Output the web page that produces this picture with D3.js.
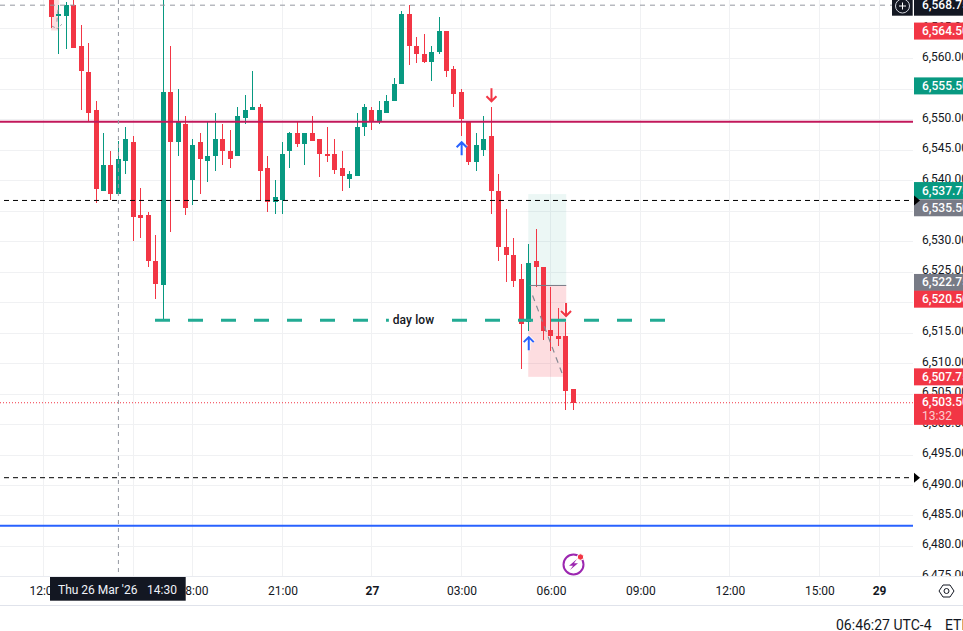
<!DOCTYPE html>
<html><head><meta charset="utf-8">
<script src="https://cdn.jsdelivr.net/npm/d3@7/dist/d3.min.js"></script>
<style>
html,body{margin:0;padding:0;background:#fff;overflow:hidden}
svg{display:block}
text{font-family:Roboto,"Liberation Sans",sans-serif}
</style></head><body><div id="chart"></div>
<script>
// 15-minute candles: index 0 = 26 Mar 12:15 session time
const opens=[6570,6567,6567,6568.75,6562,6557.75,6551.5,6538.25,6542.5,6537.75,6543.25,6546.25,6534.25,6534.25,6526.75,6522.75,6554.5,6546.25,6549.25,6540,6546.25,6543.25,6544,6546.75,6544.75,6544,6550.25,6551.5,6552,6542,6536.5,6536.75,6544.75,6547.75,6546,6547.75,6546.75,6544.25,6544.25,6542,6540.25,6540.75,6548.75,6551.5,6549.5,6551,6553,6555.75,6567.25,6562,6560.75,6559.5,6561,6564.5,6558.25,6554.5,6549.75,6543,6545,6547.25,6538.25,6529,6527.75,6523.75,6516.75,6526.75,6525.75,6515.5,6514.5,6514.5,6505.75];
const closes=[6566.75,6567.25,6568.75,6561.75,6558,6551,6538.5,6542.5,6537.75,6543.5,6546.75,6534,6533.75,6526.75,6523,6554.5,6546.25,6549.75,6535.5,6545.75,6543.5,6544,6546.75,6544.75,6543.5,6550.5,6551.5,6552,6541.5,6536.5,6537.25,6544.25,6547.75,6546,6547.75,6546.5,6544.25,6544,6541.75,6540.75,6541,6548.75,6552,6549.5,6551.5,6553,6555.75,6567.25,6562,6560.75,6559.5,6561,6564.5,6558,6554.25,6550,6543,6545.75,6546.75,6538.25,6529,6527.75,6523.5,6516.5,6526.5,6525.75,6515.25,6514.5,6514,6505.5,6503.5];
const highs=[6571,6568.75,6569.25,6570,6565.5,6562.5,6553,6547.75,6544.75,6546.5,6548.75,6547.25,6538.75,6534.75,6531,6571,6562,6555,6550.5,6546.75,6547.75,6549.5,6551,6549.25,6548.25,6552,6554,6558,6552.5,6544,6540,6546.25,6548,6549.5,6547.75,6550.5,6546.75,6548.75,6546.75,6544.75,6541.5,6551,6552.5,6552,6553,6554,6556.75,6567.75,6568.75,6563.5,6564,6562,6566.75,6564.5,6558.75,6555,6549.75,6547.75,6550.5,6552,6541,6535.25,6530.5,6526.25,6529.5,6532,6525.75,6522.5,6519,6516.75,6505.75];
const lows=[6565,6560.75,6561.5,6561.75,6551.5,6549.75,6536.25,6538.25,6536.75,6537.75,6541,6530,6530.5,6525.75,6520.5,6517,6531.5,6544,6534.25,6536,6537.75,6539.75,6541.5,6542.5,6542,6544,6549.25,6551.5,6536.75,6534.75,6534.5,6534.5,6542,6545.5,6542.5,6546.5,6540.5,6543,6541,6538.25,6538.75,6540.75,6547.25,6548.25,6549.25,6551,6553,6555.75,6559,6559.25,6559.25,6556.25,6560.75,6557,6552,6547.25,6542.5,6541.5,6544,6534.5,6526.75,6523.25,6522.5,6509,6515.25,6522.5,6513.75,6512,6512.75,6502.25,6502.25];

const priceTicks=[6475,6480,6485,6490,6495,6500,6505,6510,6515,6520,6525,6530,6535,6540,6545,6550,6555,6560,6565];
const timeTicks=[-1,11,19,31,43,55,67,79,91,103,111];
const timeLabels=["12:00","15:00","18:00","21:00","27","03:00","06:00","09:00","12:00","15:00","29"];
const boldTimeLabels=["27","29"];

const crimsonLevel=6549.6, blueLevel=6483.3, blackLevels=[6536.7,6491.2];
const lastPrice=6503.5, crossPrice=6568.75, crossIndex=9;
const dayLow=6517.05, dayLowFrom=14, dayLowTo=82.3;
const tradeEntry=6522.75, tradeTarget=6537.75, tradeStop=6507.75, tradeFrom=64, tradeTo=69;
const oldTradeFrom=0, oldTradeTo=1.1, oldTradeTop=6570, oldTradeBottom=6564.6;
const upSignals=[55,64], downSignals=[59,69];

const priceLabelValues=[6564.5,6555.5,6537.75,6535.5,6522.75,6520.5,6507.75];
const priceLabelColors=["#f23645","#089981","#089981","#787b86","#787b86","#f23645","#f23645"];
const priceLabelNudges=[0,0,-3.5,0,-3,0,0];

const W=963,H=631,plotR=913,plotB=576.7,axisB=605.3;
const x=d3.scaleLinear().domain([0,70]).range([51.3,573.3]);
const y=d3.scaleLinear().domain([6475,6569.6]).range([576.4,0]);
const fmt=d3.format(",.2f");
const px=v=>Math.floor(x(v));

const svg=d3.select("#chart").append("svg").attr("width",W).attr("height",H);
const defs=svg.append("defs");
defs.append("clipPath").attr("id","plot").append("rect").attr("width",plotR).attr("height",plotB);
defs.append("clipPath").attr("id","paxis").append("rect").attr("x",plotR).attr("width",W-plotR).attr("height",plotB);

// grid
const GRID="#f0f1f3";
const grid=svg.append("g").attr("clip-path","url(#plot)").attr("shape-rendering","crispEdges");
grid.selectAll(".h").data(priceTicks).join("line").attr("x1",0).attr("x2",plotR)
  .attr("y1",d=>Math.round(y(d))+.5).attr("y2",d=>Math.round(y(d))+.5).attr("stroke",GRID);
grid.selectAll(".v").data(timeTicks).join("line").attr("y1",0).attr("y2",plotB)
  .attr("x1",d=>px(d)+.5).attr("x2",d=>px(d)+.5).attr("stroke",GRID);

const plot=svg.append("g").attr("clip-path","url(#plot)");

// trade boxes
const tx0=x(tradeFrom)-.3, tx1=x(tradeTo)+.4;
plot.append("rect").attr("x",tx0).attr("width",tx1-tx0).attr("y",y(tradeTarget)).attr("height",y(tradeEntry)-y(tradeTarget)).attr("fill","#089981").attr("fill-opacity",.08);
plot.append("rect").attr("x",tx0).attr("width",tx1-tx0).attr("y",y(tradeEntry)).attr("height",y(tradeStop)-y(tradeEntry)).attr("fill","#f23645").attr("fill-opacity",.17);
plot.append("rect").attr("x",x(oldTradeFrom)-.3).attr("width",x(oldTradeTo)-x(oldTradeFrom)).attr("y",y(oldTradeTop)).attr("height",y(oldTradeBottom)-y(oldTradeTop)).attr("fill","#f23645").attr("fill-opacity",.17);

// candles
const idx=d3.range(opens.length);
const col=i=>closes[i]>=opens[i]?"#089981":"#f23645";
const cg=plot.append("g").attr("shape-rendering","crispEdges");
cg.selectAll(".w").data(idx).join("rect").attr("x",px).attr("width",1)
  .attr("y",i=>Math.round(y(highs[i]))).attr("height",i=>Math.round(y(lows[i]))-Math.round(y(highs[i]))).attr("fill",col);
cg.selectAll(".b").data(idx).join("rect").attr("x",i=>px(i)-2).attr("width",5)
  .attr("y",i=>Math.round(y(Math.max(opens[i],closes[i]))))
  .attr("height",i=>Math.max(2,Math.round(y(Math.min(opens[i],closes[i])))-Math.round(y(Math.max(opens[i],closes[i])))))
  .attr("fill",col);

// trade entry line and projected path
plot.append("line").attr("x1",x(tradeFrom)+1).attr("x2",tx1).attr("y1",y(tradeEntry)).attr("y2",y(tradeEntry)).attr("stroke","#787b86").attr("stroke-width",1);
plot.append("line").attr("x1",x(tradeFrom)+4).attr("x2",x(tradeTo)-3).attr("y1",y(tradeEntry)+10).attr("y2",y(tradeStop)-1.5)
  .attr("stroke","#868993").attr("stroke-width",1.2).attr("stroke-dasharray","6 5");
plot.append("path").attr("d",`M${x(.9)},${y(6568)}L${x(.7)},${y(6565.4)}`).attr("stroke","#9598a1").attr("fill","none").attr("stroke-dasharray","4 4");
plot.append("path").attr("d",`M${x(0.1)},${y(6565.3)}L${x(.8)},${y(6564.9)}L${x(1.4)},${y(6565.6)}`).attr("stroke","#9598a1").attr("fill","none").attr("stroke-dasharray","3 2");

// levels
plot.append("line").attr("x1",x(dayLowFrom)-0.7).attr("x2",x(dayLowTo)).attr("y1",y(dayLow)).attr("y2",y(dayLow))
  .attr("stroke","#22ab94").attr("stroke-width",3).attr("stroke-dasharray","15 18");
plot.append("rect").attr("x",x(45)+2).attr("y",y(dayLow)-8).attr("width",54).attr("height",16).attr("fill","#fff");
plot.append("text").attr("x",413.5).attr("y",y(dayLow)+4).attr("text-anchor","middle").attr("font-size",12).attr("font-weight",500).attr("letter-spacing",.1).attr("fill","#131722").text("day low");

plot.append("line").attr("x1",0).attr("x2",plotR).attr("y1",y(crimsonLevel)).attr("y2",y(crimsonLevel)).attr("stroke","#c2185b").attr("stroke-width",2);
plot.append("line").attr("x1",0).attr("x2",plotR).attr("y1",y(blueLevel)).attr("y2",y(blueLevel)).attr("stroke","#2962ff").attr("stroke-width",2);
plot.selectAll(".blk").data(blackLevels).join("line").attr("x1",4).attr("x2",plotR).attr("y1",d=>y(d)).attr("y2",d=>y(d))
  .attr("stroke","#000").attr("stroke-width",1).attr("stroke-dasharray","5 4");
plot.append("line").attr("x1",0).attr("x2",plotR).attr("y1",y(lastPrice)).attr("y2",y(lastPrice)).attr("stroke","#f23645").attr("stroke-width",1).attr("stroke-dasharray","1 2");

// signal arrows
function arrow(i,up){
  const cx=x(i)+.2, tip=up?y(lows[i])+5:y(highs[i])-5, s=up?1:-1;
  const d=`M${cx},${tip+14*s}L${cx},${tip+1*s}M${cx-5},${tip+6*s}L${cx},${tip+1*s}L${cx+5},${tip+6*s}`;
  const c=up?"#2962ff":"#f23645";
  plot.append("path").attr("d",d).attr("fill","none").attr("stroke","#fff").attr("stroke-width",4).attr("opacity",.7);
  plot.append("path").attr("d",d).attr("fill","none").attr("stroke",c).attr("stroke-width",2);
}
upSignals.forEach(i=>arrow(i,true));
downSignals.forEach(i=>arrow(i,false));

// crosshair
plot.append("line").attr("x1",x(crossIndex)).attr("x2",x(crossIndex)).attr("y1",0).attr("y2",plotB).attr("stroke","#9598a1").attr("stroke-dasharray","4 4");
plot.append("line").attr("x1",0).attr("x2",892).attr("y1",y(crossPrice)).attr("y2",y(crossPrice)).attr("stroke","#9598a1").attr("stroke-dasharray","5 5");

// lightning icon
const bolt=svg.append("g").attr("transform","translate(573.5,564.5)");
bolt.append("circle").attr("r",10).attr("fill","#fff").attr("stroke","#9c27b0").attr("stroke-width",2);
bolt.append("path").attr("d","M3.5,-5.5L-4.5,1.2H-0.5L-3.5,5.5L4.5,-1.2H0.5Z").attr("fill","#9c27b0");
bolt.append("circle").attr("cx",7).attr("cy",-7.5).attr("r",3.2).attr("fill","#f23645").attr("stroke","#fff");

// price axis
const pAxis=svg.append("g").attr("clip-path","url(#paxis)");
const pInner=pAxis.append("g").attr("transform",`translate(${plotR},0)`)
  .call(d3.axisRight(y).tickValues(priceTicks).tickFormat(fmt).tickSize(0).tickPadding(9));
pInner.select(".domain").remove();
pInner.selectAll("text").attr("font-size",12).attr("fill","#131722").attr("font-family","Roboto,'Liberation Sans',sans-serif").attr("dy","0.17em");

// axis tags
const lbl=svg.append("g");
function tag(cy,h,fill,txt,sub){
  lbl.append("rect").attr("x",plotR+1).attr("y",cy-h/2).attr("width",W-plotR-1).attr("height",h).attr("fill",fill);
  lbl.append("text").attr("x",922).attr("y",sub?cy-h/2+12.5:cy+4).attr("font-size",12).attr("font-weight",500).attr("fill","#fff").text(txt);
  if(sub) lbl.append("text").attr("x",922).attr("y",cy-h/2+26).attr("font-size",12).attr("fill","#fff").attr("fill-opacity",.75).text(sub);
}
priceLabelValues.forEach((v,i)=>tag(y(v)+priceLabelNudges[i],17,priceLabelColors[i],fmt(v)));
tag(y(lastPrice)+6.6,31,"#f23645",fmt(lastPrice),"13:32");
// crosshair tag + plus button
lbl.append("rect").attr("x",plotR+1).attr("y",-3).attr("width",W-plotR-1).attr("height",18.7).attr("fill","#131722");
lbl.append("text").attr("x",922).attr("y",y(crossPrice)+4).attr("font-size",12).attr("font-weight",500).attr("fill","#fff").text(fmt(crossPrice));
lbl.append("rect").attr("x",892).attr("y",-3).attr("width",20.7).attr("height",18.7).attr("fill","#131722");
lbl.append("circle").attr("cx",902.5).attr("cy",6).attr("r",7).attr("fill","none").attr("stroke","#d1d4dc");
lbl.append("path").attr("d","M902.5,2.5V9.5M899,6H906").attr("stroke","#fff").attr("fill","none");
// axis arrow markers
lbl.selectAll(".tri").data(blackLevels).join("path")
  .attr("d",d=>`M${plotR+1},${y(d)-5}L${plotR+7},${y(d)}L${plotR+1},${y(d)+5}Z`).attr("fill","#000");

// time axis
svg.append("line").attr("x1",0).attr("x2",W).attr("y1",576.5).attr("y2",576.5).attr("stroke","#e9ebf0");
svg.append("line").attr("x1",0).attr("x2",W).attr("y1",605.5).attr("y2",605.5).attr("stroke","#e0e3eb");
const tAxis=svg.append("g").attr("transform","translate(0,576)")
  .call(d3.axisBottom(x).tickValues(timeTicks).tickFormat((d,i)=>timeLabels[i]).tickSize(0).tickPadding(10));
tAxis.select(".domain").remove();
tAxis.selectAll("text").attr("font-size",12).attr("fill","#131722").attr("font-family","Roboto,'Liberation Sans',sans-serif")
  .attr("font-weight",(d,i)=>boldTimeLabels.includes(timeLabels[i])?700:400);

// crosshair time tag
svg.append("rect").attr("x",50).attr("y",577).attr("width",135.7).attr("height",23.7).attr("fill","#131722");
svg.append("text").attr("x",58).attr("y",593.5).attr("font-size",12).attr("fill","#f0f3fa").text("Thu 26 Mar '26");
svg.append("text").attr("x",147).attr("y",593.5).attr("font-size",12).attr("fill","#f0f3fa").text("14:30");

// settings icon
const gear=svg.append("g").attr("transform","translate(946.5,591)").attr("fill","none").attr("stroke","#131722");
gear.append("path").attr("d","M-7.5,0L-3.5,-6H3.5L7.5,0L3.5,6H-3.5Z");
gear.append("circle").attr("r",2.5);

// footer
svg.append("text").attr("x",836).attr("y",629.5).attr("font-size",14).attr("fill","#131722").text("06:46:27 UTC-4");
svg.append("text").attr("x",945).attr("y",629.5).attr("font-size",14).attr("fill","#131722").text("ETH");
</script></body></html>
